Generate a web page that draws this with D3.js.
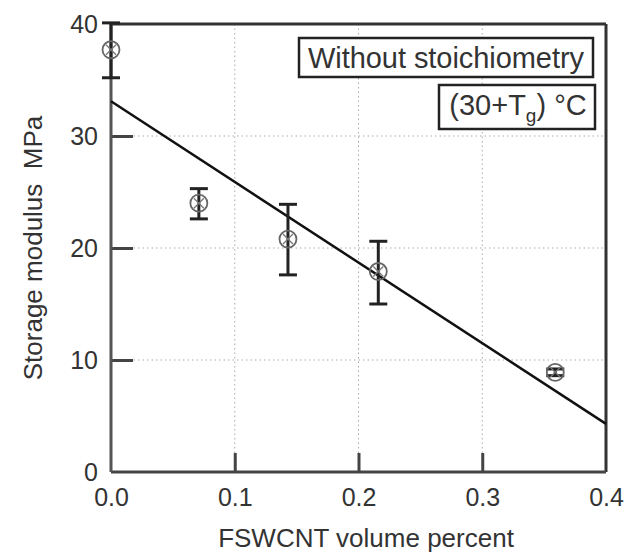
<!DOCTYPE html>
<html>
<head>
<meta charset="utf-8">
<script src="https://cdn.jsdelivr.net/npm/d3@7/dist/d3.min.js"></script>
<style>
  html, body { margin: 0; padding: 0; background: #fff; }
  svg { display: block; }
  text { font-family: "Liberation Sans", Arial, Helvetica, sans-serif; fill: #333; }
</style>
</head>
<body>
<svg id="chart" width="631" height="552"></svg>
<script>
// ---- data ----
const volumePercent = [0.0, 0.071, 0.143, 0.216, 0.359];
const storageModulus = [37.7, 24.0, 20.8, 17.9, 8.9];
const errHigh = [40.1, 25.3, 23.9, 20.6, 9.2];
const errLow = [35.2, 22.6, 17.6, 15.0, 8.6];
const fitX = [0.0, 0.4];
const fitY = [33.1, 4.3];
const xTicks = [0.0, 0.1, 0.2, 0.3, 0.4];
const xTickLabels = ["0.0", "0.1", "0.2", "0.3", "0.4"];
const yTicks = [0, 10, 20, 30, 40];
const yTickLabels = ["0", "10", "20", "30", "40"];
const xTitle = "FSWCNT volume percent";
const yTitle = "Storage modulus\u00A0\u00A0MPa";
const legend1 = "Without stoichiometry";

// ---- layout ----
const W = 631, H = 552;
const margin = { left: 111, right: 25, top: 24, bottom: 80 };
const iw = W - margin.left - margin.right;
const ih = H - margin.top - margin.bottom;

const svg = d3.select("#chart");
const g = svg.append("g").attr("transform", `translate(${margin.left},${margin.top})`);

const x = d3.scaleLinear().domain([0, 0.4]).range([0, iw]);
const y = d3.scaleLinear().domain([0, 40]).range([ih, 0]);

// grid
g.append("g").selectAll("line.gx").data(xTicks.slice(1, -1)).join("line")
  .attr("x1", d => x(d)).attr("x2", d => x(d)).attr("y1", 0).attr("y2", ih)
  .attr("stroke", "#aaa").attr("stroke-width", 1).attr("stroke-dasharray", "1.5,3");
g.append("g").selectAll("line.gy").data(yTicks.slice(1, -1)).join("line")
  .attr("y1", d => y(d)).attr("y2", d => y(d)).attr("x1", 0).attr("x2", iw)
  .attr("stroke", "#aaa").attr("stroke-width", 1).attr("stroke-dasharray", "1.5,3");

// axes with inward ticks
const xAxis = d3.axisBottom(x).tickValues(xTicks).tickFormat((d, i) => xTickLabels[i])
  .tickSizeInner(-19).tickSizeOuter(0).tickPadding(34);
const yAxis = d3.axisLeft(y).tickValues(yTicks).tickFormat((d, i) => yTickLabels[i])
  .tickSizeInner(-22).tickSizeOuter(0).tickPadding(13);

const gx = g.append("g").attr("transform", `translate(0,${ih})`).call(xAxis);
const gy = g.append("g").call(yAxis);
[gx, gy].forEach(a => {
  a.select(".domain").remove();
  a.selectAll(".tick line").attr("stroke", "#444").attr("stroke-width", 3);
  a.selectAll(".tick text").style("font-size", "25px").attr("fill", "#333");
});
gx.selectAll(".tick text").attr("dy", "0em");
gx.selectAll(".tick").filter(d => d === 0 || d === 0.4).select("line").remove();
gy.selectAll(".tick").filter(d => d === 0 || d === 40).select("line").remove();

// frame
g.append("line").attr("x1", 0).attr("x2", iw).attr("y1", 0).attr("y2", 0)
  .attr("stroke", "#333").attr("stroke-width", 3);
g.append("line").attr("x1", iw).attr("x2", iw).attr("y1", 0).attr("y2", ih)
  .attr("stroke", "#333").attr("stroke-width", 3);
g.append("line").attr("x1", 0).attr("x2", iw).attr("y1", ih).attr("y2", ih)
  .attr("stroke", "#444").attr("stroke-width", 3);
g.append("line").attr("x1", 0).attr("x2", 0).attr("y1", 0).attr("y2", ih)
  .attr("stroke", "#555").attr("stroke-width", 3);

// fit line
const line = d3.line().x(d => x(d[0])).y(d => y(d[1]));
g.append("path").datum(fitX.map((v, i) => [v, fitY[i]]))
  .attr("d", line).attr("fill", "none").attr("stroke", "#111").attr("stroke-width", 2.5);

// legend boxes
const lg = g.append("g");
lg.append("rect").attr("x", 299 - margin.left).attr("y", 38 - margin.top)
  .attr("width", 294).attr("height", 39).attr("fill", "#fff")
  .attr("stroke", "#222").attr("stroke-width", 2.5);
lg.append("text").attr("x", 446 - margin.left).attr("y", 68 - margin.top)
  .attr("text-anchor", "middle").style("font-size", "29px").attr("textLength", 276)
  .text(legend1);
lg.append("rect").attr("x", 439 - margin.left).attr("y", 85 - margin.top)
  .attr("width", 156).attr("height", 44).attr("fill", "#fff")
  .attr("stroke", "#222").attr("stroke-width", 2.5);
const t2 = lg.append("text").attr("x", 518 - margin.left).attr("y", 115 - margin.top)
  .attr("text-anchor", "middle").style("font-size", "29px");
t2.append("tspan").text("(30+T");
t2.append("tspan").attr("dy", 7).style("font-size", "19px").text("g");
t2.append("tspan").attr("dy", -7).text(") \u00B0C");

// error bars
const pts = volumePercent.map((v, i) => ({ x: v, y: storageModulus[i], hi: errHigh[i], lo: errLow[i] }));
const eb = g.append("g").attr("stroke", "#222").attr("stroke-width", 3);
eb.selectAll("line.v").data(pts).join("line")
  .attr("x1", d => x(d.x)).attr("x2", d => x(d.x)).attr("y1", d => y(d.hi)).attr("y2", d => y(d.lo));
eb.selectAll("line.h").data(pts).join("line")
  .attr("x1", d => x(d.x) - 9).attr("x2", d => x(d.x) + 9).attr("y1", d => y(d.hi)).attr("y2", d => y(d.hi));
eb.selectAll("line.l").data(pts).join("line")
  .attr("x1", d => x(d.x) - 9).attr("x2", d => x(d.x) + 9).attr("y1", d => y(d.lo)).attr("y2", d => y(d.lo));

// markers: circle with x
const mk = g.append("g").selectAll("g").data(pts).join("g")
  .attr("transform", d => `translate(${x(d.x)},${y(d.y)})`);
mk.append("circle").attr("r", 8.5).attr("fill", "none").attr("stroke", "#666").attr("stroke-width", 1.8);
mk.append("path").attr("d", "M-5,-5L5,5M-5,5L5,-5")
  .attr("stroke", "#777").attr("stroke-width", 1.3);

// titles
svg.append("text").attr("x", 366).attr("y", 547)
  .attr("text-anchor", "middle").style("font-size", "26px").text(xTitle);
svg.append("text").attr("transform", `translate(42,${margin.top + ih / 2}) rotate(-90)`)
  .attr("text-anchor", "middle").style("font-size", "26px").text(yTitle);
</script>
</body>
</html>
